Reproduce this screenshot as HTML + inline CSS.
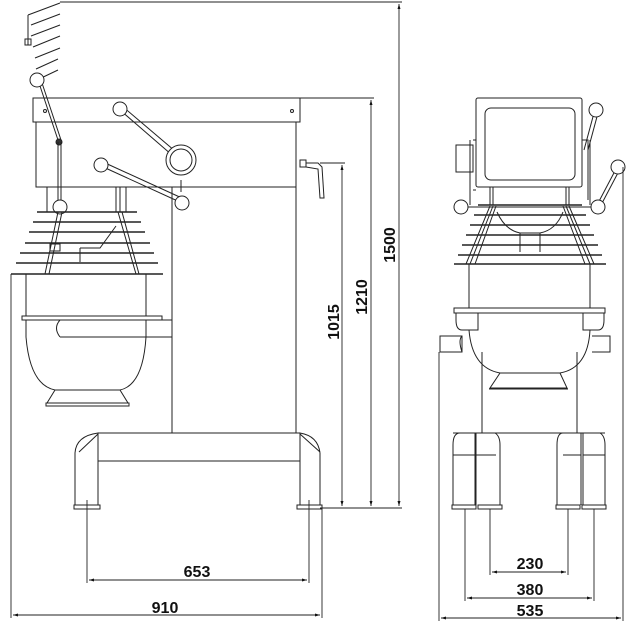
<!DOCTYPE html>
<html><head><meta charset="utf-8"><style>
html,body{margin:0;padding:0;background:#fff;}
svg{display:block;}
text{font-family:"Liberation Sans",Arial,sans-serif;font-weight:bold;font-size:16px;fill:#111;}
</style></head><body>
<svg width="631" height="630" viewBox="0 0 631 630" xmlns="http://www.w3.org/2000/svg">
<defs>
<marker id="a" viewBox="0 0 10 10" refX="10" refY="5" markerWidth="12" markerHeight="5" markerUnits="userSpaceOnUse" orient="auto-start-reverse"><path d="M0,2 L10,5 L0,8 Z" fill="#111"/></marker>
<marker id="v" viewBox="0 0 10 10" refX="10" refY="5" markerWidth="16" markerHeight="5" markerUnits="userSpaceOnUse" orient="auto-start-reverse"><path d="M0,2 L10,5 L0,8 Z" fill="#111"/></marker>
</defs>
<g fill="none" stroke="#222" stroke-width="1">
<path d="M28,15 L60,3 M28,15 L28,45 M31,25 L60,14 M31,36 L60,25 M33,47 L60,36 M35,58 L60,48 M36,69 L58,59 M37,80 L58,70"/>
<rect x="25" y="39" width="6" height="6"/>
<line x1="38" y1="80" x2="58" y2="140"/><line x1="41" y1="80" x2="61" y2="140"/>
<circle cx="37" cy="80" r="7" fill="#fff"/>
<rect x="33" y="98" width="267" height="24"/>
<rect x="36" y="122" width="260" height="65"/>
<circle cx="45" cy="111" r="1.5"/><circle cx="292" cy="111" r="1.5"/>
<circle cx="59" cy="142" r="3" fill="#333"/>
<line x1="172" y1="187" x2="172" y2="433"/>
<line x1="296" y1="187" x2="296" y2="433"/>
<line x1="120" y1="110" x2="172" y2="155"/><line x1="122" y1="106" x2="175" y2="151"/>
<circle cx="120" cy="109" r="7" fill="#fff"/>
<circle cx="181" cy="160" r="15" fill="#fff"/><circle cx="181" cy="160" r="11"/>
<line x1="181" y1="180" x2="181" y2="192"/>
<line x1="101" y1="166" x2="182" y2="203"/><line x1="103" y1="162" x2="184" y2="199"/>
<circle cx="101" cy="165" r="7" fill="#fff"/><circle cx="182" cy="203" r="7" fill="#fff"/>
<rect x="300" y="160" width="6" height="7"/>
<path d="M306,163 L318,163 L322,167 L324,198 L320,198 L318,169 L306,167"/>
<line x1="47" y1="187" x2="47" y2="212"/><line x1="61" y1="187" x2="61" y2="212"/>
<line x1="126" y1="187" x2="126" y2="212"/>
<line x1="58" y1="142" x2="58" y2="205"/><line x1="61" y1="142" x2="61" y2="205"/>
<rect x="116" y="187" width="4" height="25"/>
<circle cx="60" cy="207" r="7" fill="#fff"/>
<g stroke-width="1.5">
<line x1="37" y1="212" x2="137" y2="212"/>
<line x1="33" y1="222" x2="141" y2="222"/>
<line x1="29" y1="232" x2="145" y2="232"/>
<line x1="25" y1="243" x2="150" y2="243"/>
<line x1="20" y1="253" x2="154" y2="253"/>
<line x1="16" y1="263" x2="158" y2="263"/>
<line x1="11" y1="274" x2="163" y2="274"/>
</g>
<path d="M58,212 L45,274 M62,212 L49,274 M118,212 L136,274 M122,212 L139,274"/>
<path d="M80,248 L100,248 L116,226 M80,248 L80,262"/>
<rect x="50" y="244" width="10" height="7"/>
<line x1="26" y1="274" x2="26" y2="316"/><line x1="146" y1="274" x2="146" y2="316"/>
<rect x="22" y="316" width="140" height="4"/>
<path d="M60,320 L172,320 M60,337 L172,337 M60,320 Q53,328 60,337"/>
<line x1="26" y1="320" x2="26" y2="337"/><line x1="146" y1="320" x2="146" y2="337"/>
<path d="M26,337 Q30,385 55,390 L120,390 Q143,385 146,337"/>
<path d="M55,390 L47,403 L128,403 L120,390"/>
<rect x="46" y="403" width="83" height="3"/>
<path d="M98,433 L300,433 M98,461 L300,461"/>
<path d="M75,505 L75,453 Q76,436 98,433 L98,505"/>
<line x1="79" y1="452" x2="98" y2="434"/>
<path d="M300,505 L300,433 Q318,436 320,453 L320,505"/>
<line x1="300" y1="434" x2="320" y2="452"/>
<rect x="74" y="505" width="26" height="4"/><rect x="297" y="505" width="25" height="4"/>

<rect x="476" y="98" width="106" height="89" rx="2"/>
<rect x="485" y="108" width="90" height="72" rx="6"/>
<rect x="456" y="145" width="17" height="27"/>
<path d="M473,140 L476,140 M473,190 L476,190 M582,140 L588,140 L588,200"/>
<line x1="470" y1="140" x2="470" y2="205"/><line x1="590" y1="140" x2="590" y2="205"/>
<line x1="490" y1="187" x2="490" y2="205"/><line x1="493" y1="187" x2="493" y2="205"/>
<line x1="566" y1="187" x2="566" y2="205"/><line x1="569" y1="187" x2="569" y2="205"/>
<line x1="594" y1="113" x2="584" y2="150"/><line x1="598" y1="113" x2="588" y2="150"/>
<circle cx="596" cy="110" r="7" fill="#fff"/>
<line x1="616" y1="169" x2="596" y2="207"/><line x1="620" y1="169" x2="600" y2="207"/>
<circle cx="618" cy="167" r="7" fill="#fff"/>
<line x1="461" y1="207" x2="600" y2="207"/>
<circle cx="461" cy="207" r="7" fill="#fff"/>
<circle cx="598" cy="207" r="7" fill="#fff"/>
<g stroke-width="1.5">
<line x1="478" y1="205" x2="582" y2="205"/>
<line x1="474" y1="215" x2="586" y2="215"/>
<line x1="470" y1="225" x2="590" y2="225"/>
<line x1="466" y1="235" x2="594" y2="235"/>
<line x1="462" y1="245" x2="598" y2="245"/>
<line x1="458" y1="255" x2="602" y2="255"/>
<line x1="454" y1="264" x2="606" y2="264"/>
</g>
<path d="M493,206 L470,264 M490,206 L466,264 M496,206 L475,264 M566,206 L590,264 M569,206 L594,264 M563,206 L585,264"/>
<path d="M497,212 Q505,230 520,233 L540,233 Q556,230 563,212"/>
<line x1="520" y1="233" x2="520" y2="252"/><line x1="540" y1="233" x2="540" y2="252"/>
<line x1="469" y1="264" x2="469" y2="308"/><line x1="590" y1="264" x2="590" y2="308"/>
<rect x="454" y="308" width="151" height="5"/>
<path d="M456,313 L478,313 L478,330 L462,330 Q456,330 456,320 Z"/>
<path d="M583,313 L604,313 L604,320 Q604,330 598,330 L583,330 Z"/>
<path d="M469,330 Q472,368 500,373 L560,373 Q588,368 590,330"/>
<path d="M500,373 L490,388 L567,388 L560,373"/>
<line x1="489" y1="389" x2="568" y2="389"/>
<path d="M462,336 L440,336 L440,352 L462,352 Z M462,336 Q458,340 462,352" />
<path d="M592,336 L610,336 L610,352 L592,352"/>
<line x1="482" y1="352" x2="482" y2="433"/><line x1="577" y1="352" x2="577" y2="433"/>
<line x1="453" y1="433" x2="605" y2="433"/>
<g>
<path d="M453,505 L453,445 Q453,433 460,433 L475,433 L475,505"/>
<line x1="453" y1="455" x2="475" y2="455"/>
<path d="M476,505 L476,433 L495,433 Q500,436 500,445 L500,505"/>
<line x1="476" y1="455" x2="496" y2="455"/>
<path d="M557,505 L557,445 Q557,433 563,433 L581,433 L581,505"/>
<line x1="563" y1="455" x2="581" y2="455"/>
<path d="M583,505 L583,433 L600,433 Q605,436 605,445 L605,505"/>
<line x1="583" y1="455" x2="605" y2="455"/>
<rect x="452" y="505" width="24" height="4"/><rect x="478" y="505" width="24" height="4"/>
<rect x="556" y="505" width="24" height="4"/><rect x="582" y="505" width="24" height="4"/>
</g>

<g stroke="#222" stroke-width="0.9">
<line x1="60" y1="2" x2="402" y2="2"/>
<line x1="300" y1="98" x2="374" y2="98"/>
<line x1="320" y1="163" x2="345" y2="163"/>
<line x1="320" y1="508" x2="402" y2="508"/>
<line x1="399" y1="4" x2="399" y2="506" marker-start="url(#v)" marker-end="url(#v)"/>
<line x1="371" y1="100" x2="371" y2="506" marker-start="url(#v)" marker-end="url(#v)"/>
<line x1="342" y1="165" x2="342" y2="506" marker-start="url(#v)" marker-end="url(#v)"/>
<line x1="11" y1="274" x2="11" y2="618"/>
<line x1="322" y1="509" x2="322" y2="618"/>
<line x1="87" y1="500" x2="87" y2="583"/><line x1="309" y1="500" x2="309" y2="583"/>
<line x1="89" y1="580" x2="307" y2="580" marker-start="url(#a)" marker-end="url(#a)"/>
<line x1="13" y1="615" x2="320" y2="615" marker-start="url(#a)" marker-end="url(#a)"/>
<line x1="465" y1="509" x2="465" y2="601"/><line x1="490" y1="509" x2="490" y2="575"/>
<line x1="568" y1="509" x2="568" y2="575"/><line x1="594" y1="509" x2="594" y2="601"/>
<line x1="439" y1="352" x2="439" y2="621"/><line x1="623" y1="167" x2="623" y2="621"/>
<line x1="492" y1="572" x2="566" y2="572" marker-start="url(#a)" marker-end="url(#a)"/>
<line x1="467" y1="598" x2="592" y2="598" marker-start="url(#a)" marker-end="url(#a)"/>
<line x1="441" y1="618" x2="621" y2="618" marker-start="url(#a)" marker-end="url(#a)"/>
</g>
</g>
<text x="197" y="577" text-anchor="middle">653</text>
<text x="165" y="613" text-anchor="middle">910</text>
<text x="530" y="569" text-anchor="middle">230</text>
<text x="530" y="595" text-anchor="middle">380</text>
<text x="530" y="616" text-anchor="middle">535</text>
<text transform="translate(395,245) rotate(-90)" text-anchor="middle">1500</text>
<text transform="translate(367,297) rotate(-90)" text-anchor="middle">1210</text>
<text transform="translate(339,322) rotate(-90)" text-anchor="middle">1015</text>
</svg>
</body></html>
